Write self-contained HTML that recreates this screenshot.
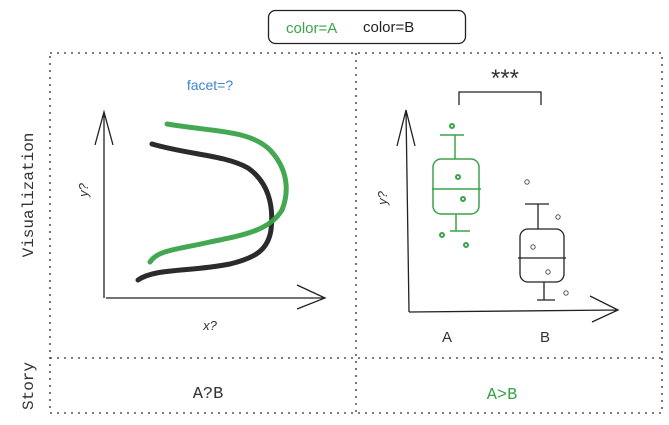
<!DOCTYPE html>
<html><head><style>
body{margin:0;background:#fff;}
svg{display:block;}
text{font-family:"Liberation Sans",sans-serif;}
</style></head><body>
<svg width="669" height="425" viewBox="0 0 669 425" xmlns="http://www.w3.org/2000/svg">
<rect x="268.5" y="10.5" width="197" height="33" rx="7" fill="none" stroke="#222" stroke-width="1.3"/>
<text x="286" y="33" font-size="15" fill="#3aa34a">color=A</text>
<text x="363" y="32" font-size="15" fill="#222">color=B</text>
<g fill="none" stroke="#333" stroke-width="1.3" stroke-dasharray="2 5">
<rect x="50" y="53" width="612" height="360"/>
<line x1="356" y1="53" x2="356" y2="413"/>
<line x1="50" y1="358" x2="662" y2="358"/>
</g>
<text transform="translate(33,195) rotate(-90)" text-anchor="middle" font-size="16" fill="#333" style="font-family:'Liberation Mono',monospace">Visualization</text>
<text transform="translate(33,386) rotate(-90)" text-anchor="middle" font-size="16" fill="#333" style="font-family:'Liberation Mono',monospace">Story</text>
<text x="210" y="90" text-anchor="middle" font-size="14" fill="#3b86d0">facet=?</text>
<g stroke="#222" stroke-width="1.3" fill="none">
<path d="M104 112 L104 298 M95 145 L104 112 L113 145"/>
<path d="M106 298 L325 298 M297 285 L325 298 L297 309"/>
<path d="M406 110 L409 312 M397 146 L406 110 L415 146"/>
<path d="M409 312 L618 310 M590 296 L618 310 L592 322"/>
<path d="M459 105 L459 92 L541 92 L541 105"/>
</g>
<text x="88" y="190" transform="rotate(-90 88 190)" text-anchor="middle" font-size="13" fill="#333" font-style="italic">y?</text>
<text x="210" y="330" text-anchor="middle" font-size="13" fill="#333" font-style="italic">x?</text>
<text x="387" y="198" transform="rotate(-90 387 198)" text-anchor="middle" font-size="13" fill="#333" font-style="italic">y?</text>
<path d="M152 144 C190 155 225 155 248 168 C268 182 274 205 271 230 C268 250 255 258 230 264 C190 272 155 268 138 280" fill="none" stroke="#2b2b2b" stroke-width="5" stroke-linecap="round"/>
<path d="M167 124 C215 132 250 130 270 150 C287 168 290 190 282 210 C270 230 245 235 210 242 C175 250 158 250 150 262" fill="none" stroke="#3aa34a" stroke-width="5" stroke-linecap="round" opacity="0.95"/>
<text x="505" y="86" text-anchor="middle" font-size="24" fill="#333">***</text>
<g stroke="#3aa34a" stroke-width="1.5" fill="none">
<rect x="433" y="159" width="46" height="55" rx="8"/>
<line x1="432" y1="189" x2="481" y2="189"/>
<path d="M455 159 L455 135 M440 135 L464 135 M456 214 L456 231 M450 231 L470 231"/>
<g stroke-width="2"><circle cx="452" cy="126" r="2"/><circle cx="458" cy="177" r="2"/><circle cx="463" cy="199" r="2"/><circle cx="442" cy="235" r="2"/><circle cx="466" cy="245" r="2"/></g>
</g>
<g stroke="#222" stroke-width="1.3" fill="none">
<rect x="520" y="229" width="44" height="53" rx="8"/>
<line x1="518" y1="258" x2="566" y2="258"/>
<path d="M538 229 L538 204 M525 204 L549 204 M544 282 L544 300 M537 300 L555 300"/>
<g stroke="#555" stroke-width="1"><circle cx="527" cy="182" r="2.2"/><circle cx="558" cy="217" r="2.2"/><circle cx="533" cy="247" r="2.2"/><circle cx="548" cy="272" r="2.2"/><circle cx="566" cy="293" r="2.2"/></g>
</g>
<text x="447" y="342" text-anchor="middle" font-size="15" fill="#333">A</text>
<text x="545" y="342" text-anchor="middle" font-size="15" fill="#333">B</text>
<text x="208" y="398" text-anchor="middle" font-size="17" fill="#333" style="font-family:'Liberation Mono',monospace">A?B</text>
<text x="502" y="399" text-anchor="middle" font-size="17" fill="#3aa34a" style="font-family:'Liberation Mono',monospace">A&gt;B</text>
</svg>
</body></html>
